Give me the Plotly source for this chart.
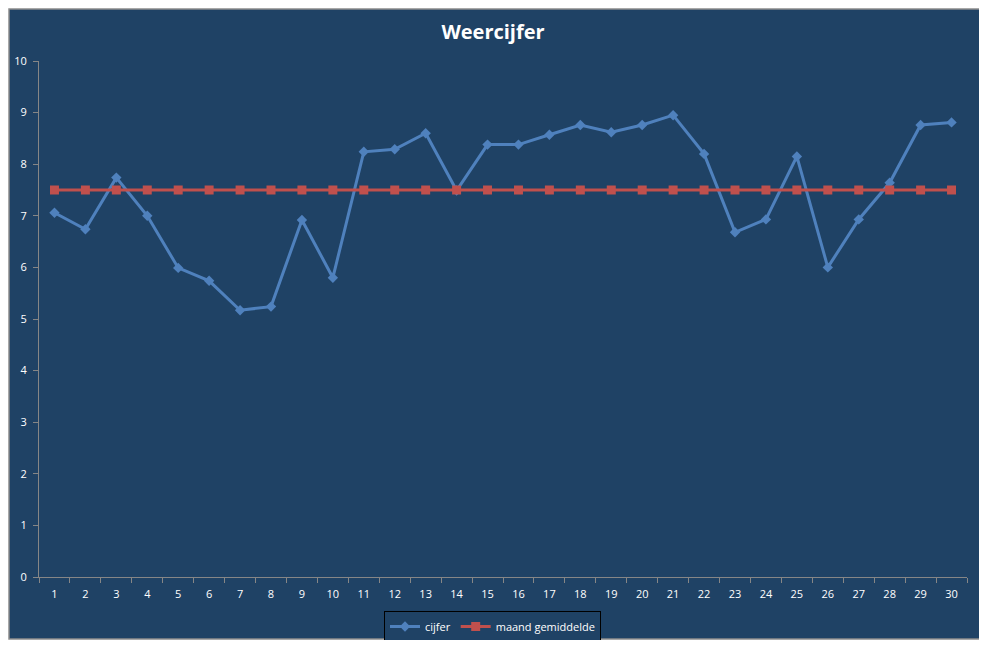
import plotly.graph_objects as go

dagen = list(range(1, 31))
cijfer = [7.06, 6.74, 7.74, 7.0, 5.99, 5.74, 5.17, 5.24, 6.92, 5.80,
          8.24, 8.29, 8.60, 7.49, 8.38, 8.38, 8.57, 8.76, 8.62, 8.76,
          8.95, 8.20, 6.68, 6.93, 8.15, 6.0, 6.93, 7.64, 8.76, 8.81]
maand_gemiddelde = [7.5] * 30
y_ticks = list(range(0, 11))

# page body has an 8px margin on every side; compensate so content lands on target pixels
OFF = 8
W, H = 987 - 2 * OFF, 648 - 2 * OFF
# target plot area in page pixels
PL, PR, PT, PB = 39, 967, 61, 577
L, T = PL - OFF, PT - OFF
R = W - (PR - OFF)
B = H - (PB - OFF)
pw, ph = W - L - R, H - T - B

def px(x):
    return (x - OFF - L) / pw

def py(y):
    return (H - B - (y - OFF)) / ph

bg = "#1F4265"
axis_col = "#868686"
font = "Open Sans, Liberation Sans, sans-serif"

fig = go.Figure()
fig.add_trace(go.Scatter(
    x=dagen, y=cijfer, name="cijfer", mode="lines+markers",
    line=dict(color="#4F81BD", width=3),
    marker=dict(symbol="diamond", size=8, color="#4F81BD"),
))
fig.add_trace(go.Scatter(
    x=dagen, y=maand_gemiddelde, name="maand gemiddelde", mode="lines+markers",
    line=dict(color="#C0504D", width=3),
    marker=dict(symbol="square", size=9, color="#C0504D"),
))

fig.add_shape(type="rect", xref="paper", yref="paper",
              x0=px(9), x1=px(982), y0=py(639), y1=py(9),
              fillcolor=bg, line=dict(color="#8C8C8C", width=1.5), layer="below")

fig.update_layout(
    width=W, height=H,
    margin=dict(l=L, r=R, t=T, b=B, autoexpand=False),
    paper_bgcolor="white",
    plot_bgcolor="rgba(0,0,0,0)",
    title=dict(text="<b>Weercijfer</b>", x=(493 - OFF) / W, xanchor="center",
               y=1 - (32 - OFF) / H, yanchor="middle",
               font=dict(family=font, size=20, color="white")),
    font=dict(family=font, color="white", size=11),
    showlegend=True,
    legend=dict(orientation="h", x=px(492.5), xanchor="center",
                y=py(611), yanchor="top",
                bgcolor=bg, bordercolor="black", borderwidth=1,
                font=dict(family=font, size=11, color="white"),
                itemwidth=30, tracegroupgap=0),
    xaxis=dict(
        type="category", tickmode="array", tickvals=dagen,
        ticktext=[str(d) for d in dagen],
        range=[-0.5, 29.5], tickson="boundaries",
        showline=True, linecolor=axis_col, linewidth=1,
        ticks="outside", ticklen=5, tickcolor=axis_col,
        ticklabelstandoff=7,
        showgrid=False, zeroline=False,
        tickfont=dict(family=font, size=11, color="white"),
    ),
    yaxis=dict(
        range=[0, 10], tickvals=y_ticks,
        showline=True, linecolor=axis_col, linewidth=1,
        ticks="outside", ticklen=5, tickcolor=axis_col,
        ticklabelstandoff=4,
        showgrid=False, zeroline=False,
        tickfont=dict(family=font, size=11, color="white"),
    ),
)

fig.write_html("out.html")
